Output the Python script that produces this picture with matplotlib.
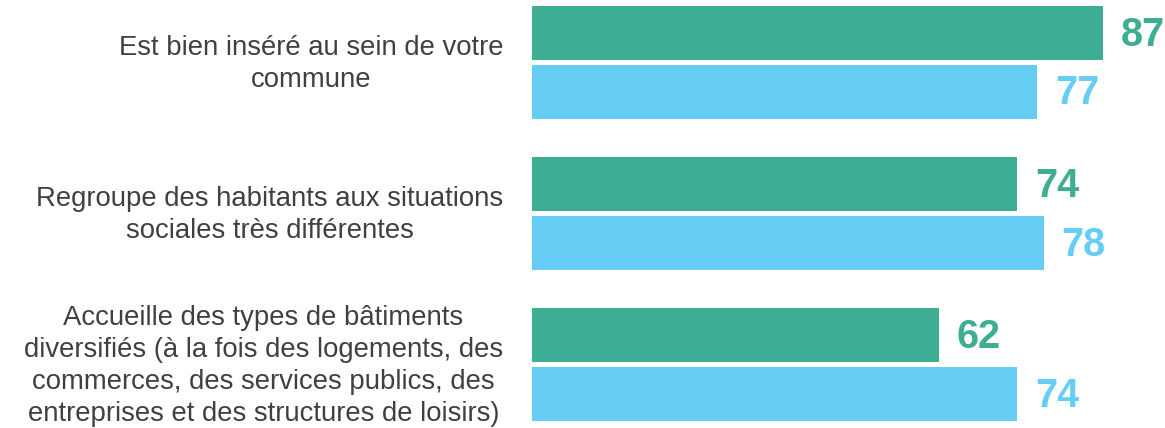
import matplotlib
matplotlib.use("Agg")
import matplotlib.pyplot as plt
import numpy as np

categories = [
    "Est bien inséré au sein de votre\ncommune",
    "Regroupe des habitants aux situations\nsociales très différentes",
    "Accueille des types de bâtiments\ndiversifiés (à la fois des logements, des\ncommerces, des services publics, des\nentreprises et des structures de loisirs)",
]
series_a = [87, 74, 62]
series_b = [77, 78, 74]
color_a = "#3DAE93"
color_b = "#66CEF5"

plt.rcParams['font.family'] = ['Liberation Sans', 'DejaVu Sans']

W, H = 1165, 428
fig = plt.figure(figsize=(W / 100, H / 100), dpi=100)
left_px = 532
ax = fig.add_axes([left_px / W, 0, 1 - left_px / W, 1])

y = np.arange(len(categories))
h = 0.358
off = 0.195
ax.barh(y - off, series_a, height=h, color=color_a)
ax.barh(y + off, series_b, height=h, color=color_b)

ax.set_xlim(0, 96.5)
ax.set_ylim(2.42, -0.414)
ax.axis('off')

for yi, v in zip(y - off, series_a):
    ax.text(v + 2.7, yi + 0.01, str(v), color=color_a, fontsize=28.5, fontweight='bold',
            va='center', ha='left')
for yi, v in zip(y + off, series_b):
    ax.text(v + 2.7, yi + 0.01, str(v), color=color_b, fontsize=28.5, fontweight='bold',
            va='center', ha='left')

for yi, lab in zip(y, categories):
    ax.text(-29 / 6.56, yi + 0.01, lab, color="#404040", fontsize=19.8, ha='right',
            va='center', multialignment='center', linespacing=1.31)

fig.savefig("out.png", dpi=100)
